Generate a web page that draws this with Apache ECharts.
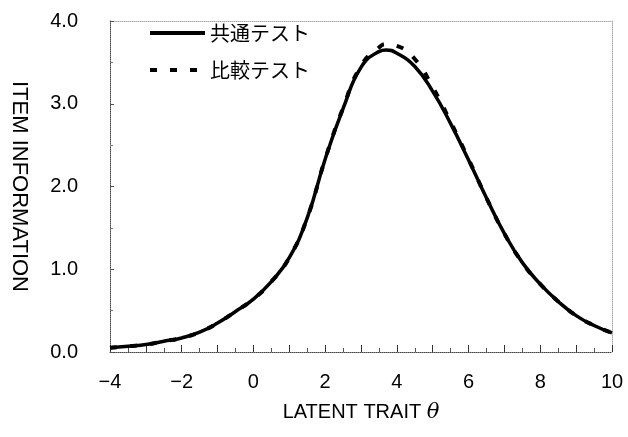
<!DOCTYPE html>
<html>
<head>
<meta charset="utf-8">
<script src="https://cdn.jsdelivr.net/npm/echarts@6/dist/echarts.min.js"></script>
<style>
html,body{margin:0;padding:0;background:#fff;}
#chart{width:628px;height:437px;}
</style>
</head>
<body>
<div id="chart"></div>
<script>
// Latent trait values (theta)
var theta = [-4,-3.5,-3,-2.5,-2,-1.5,-1,-0.5,0,0.5,1,1.5,2,2.5,3,3.5,3.7,4,4.5,5,5.5,6,6.5,7,7.5,8,8.5,9,9.5,10];
// 共通テスト information
var commonInfo = [0.05,0.07,0.09,0.13,0.17,0.24,0.35,0.49,0.64,0.85,1.14,1.62,2.33,2.94,3.44,3.63,3.65,3.61,3.45,3.15,2.76,2.32,1.86,1.43,1.08,0.82,0.61,0.44,0.32,0.23];
// 比較テスト information
var compareInfo = [0.05,0.07,0.09,0.13,0.17,0.24,0.35,0.49,0.64,0.85,1.14,1.62,2.33,2.95,3.46,3.68,3.72,3.70,3.54,3.20,2.78,2.33,1.86,1.43,1.08,0.82,0.61,0.44,0.32,0.23];
var seriesNames = ['共通テスト','比較テスト'];
var xTicks = [-4,-2,0,2,4,6,8,10];
var yTicks = [0,1,2,3,4];

function pairs(xs, ys){ return xs.map(function(x,i){return [x, ys[i]];}); }

var chart = echarts.init(document.getElementById('chart'), null, {renderer:'canvas'});
var labelFont = {color:'#000', fontFamily:'Liberation Sans, Arial, sans-serif', fontSize:20};
chart.setOption({
  animation:false,
  backgroundColor:'#fff',
  grid:{left:105, right:16, top:21, bottom:85, containLabel:false},
  legend:{
    orient:'vertical', left:148, top:23, itemGap:17, padding:0,
    itemWidth:55, itemHeight:14,
    data:seriesNames,
    itemStyle:{opacity:0},
    lineStyle:{width:4},
    textStyle:{color:'#000', fontFamily:'Noto Sans CJK JP', fontSize:20}
  },
  xAxis:[{
    type:'value', min:-4, max:10, interval:1, position:'bottom',
    name:'LATENT TRAIT {t|θ}', nameLocation:'middle', nameGap:50,
    nameTextStyle:{color:'#000', fontFamily:'Liberation Sans, Arial, sans-serif', fontSize:20,
      rich:{t:{fontStyle:'italic', fontFamily:'DejaVu Serif, serif', fontSize:21, color:'#000'}}},
    axisLine:{show:true, onZero:false, lineStyle:{color:'#444', width:1, type:'dotted'}},
    axisTick:{show:true, inside:true, length:7, lineStyle:{color:'#333'}},
    minorTick:{show:true, splitNumber:2, length:4, lineStyle:{color:'#555'}},
    axisLabel:Object.assign({margin:20, formatter:function(v){return xTicks.indexOf(v)>=0 ? (v<0?'\u2212'+(-v):String(v)) : '';}}, labelFont),
    splitLine:{show:false}
  },{
    type:'value', min:-4, max:10, position:'top',
    axisLine:{show:true, onZero:false, lineStyle:{color:'#aaa', width:1, type:'dotted'}},
    axisTick:{show:false}, axisLabel:{show:false}, splitLine:{show:false}
  }],
  yAxis:[{
    type:'value', min:0, max:4, interval:1, position:'left',
    name:'ITEM INFORMATION', nameLocation:'middle', nameGap:80, nameRotate:-90,
    nameTextStyle:{color:'#000', fontFamily:'Liberation Sans, Arial, sans-serif', fontSize:22},
    axisLine:{show:true, onZero:false, lineStyle:{color:'#444', width:1, type:'dotted'}},
    axisTick:{show:true, inside:true, length:4, lineStyle:{color:'#555'}},
    minorTick:{show:true, splitNumber:2, length:3, lineStyle:{color:'#777'}},
    axisLabel:Object.assign({margin:32, formatter:function(v){return yTicks.indexOf(v)>=0 ? v.toFixed(1) : '';}}, labelFont),
    splitLine:{show:false}
  },{
    type:'value', min:0, max:4, position:'right',
    axisLine:{show:true, onZero:false, lineStyle:{color:'#aaa', width:1, type:'dotted'}},
    axisTick:{show:false}, axisLabel:{show:false}, splitLine:{show:false}
  }],
  series:[{
    name:seriesNames[0], type:'line', smooth:true, symbol:'none',
    data:pairs(theta, commonInfo),
    lineStyle:{color:'#000', width:3.5, type:'solid'}, itemStyle:{color:'#000'}, z:3
  },{
    name:seriesNames[1], type:'line', smooth:true, symbol:'none',
    data:pairs(theta, compareInfo),
    lineStyle:{color:'#000', width:4, type:[7,13]}, itemStyle:{color:'#000'}, z:2
  }]
});
</script>
</body>
</html>
